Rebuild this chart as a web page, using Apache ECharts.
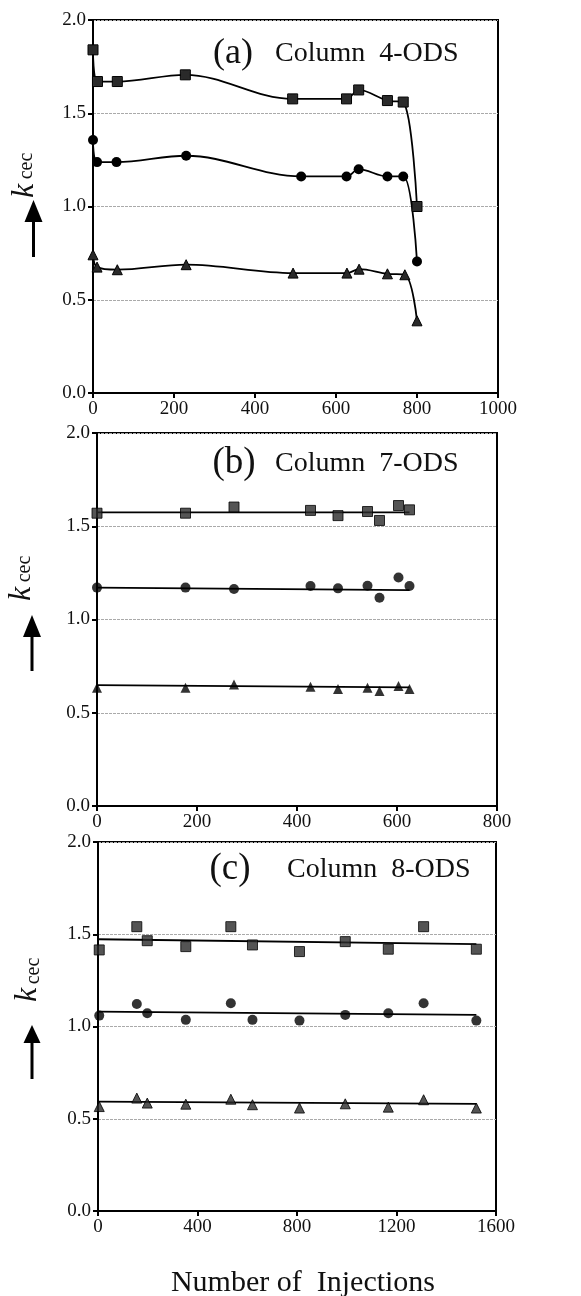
<!DOCTYPE html>
<html>
<head>
<meta charset="utf-8">
<script src="https://cdn.jsdelivr.net/npm/echarts@6/dist/echarts.min.js"></script>
<style>
html,body{margin:0;padding:0;background:#fff;}
#chart{width:581px;height:1296px;}
</style>
</head>
<body>
<div id="chart"></div>
<script>
// ---------- DATA ----------
// Panel (a) Column 4-ODS
const aSqX = [0, 11, 60, 228, 493, 626, 656, 727, 766, 800];
const aSq  = [1.84, 1.67, 1.67, 1.706, 1.577, 1.577, 1.625, 1.568, 1.56, 1.0];
const aCiX = [0, 10, 58, 230, 514, 626, 656, 727, 766, 800];
const aCi  = [1.357, 1.238, 1.238, 1.272, 1.161, 1.161, 1.20, 1.161, 1.161, 0.705];
const aTrX = [0, 10, 60, 230, 494, 627, 657, 727, 770, 800];
const aTr  = [0.741, 0.675, 0.661, 0.688, 0.643, 0.643, 0.664, 0.639, 0.634, 0.387];

// Panel (b) Column 7-ODS
const bX   = [0, 177, 274, 427, 482, 541, 565, 603, 625];
const bSq  = [1.570, 1.570, 1.603, 1.585, 1.557, 1.579, 1.531, 1.611, 1.588];
const bCi  = [1.171, 1.171, 1.164, 1.180, 1.167, 1.181, 1.117, 1.225, 1.180];
const bTr  = [0.634, 0.634, 0.652, 0.639, 0.627, 0.634, 0.616, 0.644, 0.627];
const bFitX  = [0, 625];
const bFitSq = [1.574, 1.574];
const bFitCi = [1.171, 1.158];
const bFitTr = [0.648, 0.636];

// Panel (c) Column 8-ODS
const cX   = [5, 156, 198, 353, 534, 621, 810, 994, 1167, 1309, 1521];
const cSq  = [1.415, 1.541, 1.465, 1.433, 1.541, 1.442, 1.406, 1.460, 1.419, 1.541, 1.419];
const cCi  = [1.059, 1.122, 1.072, 1.036, 1.126, 1.036, 1.032, 1.063, 1.072, 1.126, 1.032];
const cTr  = [0.566, 0.612, 0.585, 0.579, 0.606, 0.576, 0.558, 0.581, 0.563, 0.603, 0.558];
const cFitX  = [0, 1521];
const cFitSq = [1.473, 1.447];
const cFitCi = [1.081, 1.063];
const cFitTr = [0.593, 0.581];

const titles = ['(a)', '(b)', '(c)'];
const columnNames = ['Column  4-ODS', 'Column  7-ODS', 'Column  8-ODS'];
const xMax = [1000, 800, 1600];
const xStep = [200, 200, 400];
const yTicks = ['0.0', '0.5', '1.0', '1.5', '2.0'];
const xTitle = 'Number of  Injections';

// ---------- HELPERS ----------
const FONT = '"Liberation Serif", "Times New Roman", serif';
function pair(xs, ys) { return xs.map((x, i) => [x, ys[i]]); }

function makePattern() {
  const c = document.createElement('canvas');
  c.width = 3; c.height = 3;
  const g = c.getContext('2d');
  g.fillStyle = '#2a2a2a'; g.fillRect(0, 0, 3, 3);
  g.fillStyle = '#9a9a9a'; g.fillRect(1, 1, 1, 1);
  return { image: c, repeat: 'repeat' };
}
const pat = makePattern();

const grids = [
  { left: 93, top: 20, width: 405, height: 373 },
  { left: 97, top: 433, width: 400, height: 373 },
  { left: 98, top: 842, width: 398, height: 369 }
];

const option = {
  animation: false,
  backgroundColor: '#fff',
  grid: grids.map(g => Object.assign({ show: true, borderColor: '#000', borderWidth: 2, backgroundColor: 'transparent' }, g)),
  xAxis: grids.map((g, i) => ({
    type: 'value', gridIndex: i, min: 0, max: xMax[i], interval: xStep[i],
    axisLine: { show: true, lineStyle: { color: '#000', width: 2 } },
    axisTick: { show: true, inside: false, length: 5, lineStyle: { color: '#000', width: 2 } },
    axisLabel: { color: '#111', fontFamily: FONT, fontSize: 19, margin: 7, formatter: v => String(v) },
    splitLine: { show: false }
  })),
  yAxis: grids.map((g, i) => ({
    type: 'value', gridIndex: i, min: 0, max: 2, interval: 0.5,
    axisLine: { show: true, lineStyle: { color: '#000', width: 2 } },
    axisTick: { show: true, inside: false, length: 5, lineStyle: { color: '#000', width: 2 } },
    axisLabel: { color: '#111', fontFamily: FONT, fontSize: 19, margin: 7,
      formatter: v => yTicks[Math.round(v / 0.5)] },
    splitLine: { show: true, lineStyle: { color: '#aaaaaa', width: 1, type: [3, 1] } }
  })),
  series: [],
  graphic: []
};

const lineStyle = { color: '#000', width: 1.8 };
const sqStyleGray = { color: pat, borderColor: '#000', borderWidth: 1 };
const sqStyleDark = { color: '#2a2a2a', borderColor: '#000', borderWidth: 1 };
const triStyleGray = { color: pat, borderColor: '#000', borderWidth: 1 };
const blackStyle = { color: '#000' };

// Panel (a): smooth lines with markers
[[aSqX, aSq, 'rect', 10, sqStyleGray], [aCiX, aCi, 'circle', 10, blackStyle], [aTrX, aTr, 'triangle', 10, triStyleGray]]
.forEach(([xs, ys, sym, sz, st]) => {
  option.series.push({
    type: 'line', xAxisIndex: 0, yAxisIndex: 0, data: pair(xs, ys),
    smooth: 0.35, symbol: sym, symbolSize: sz, showAllSymbol: true,
    lineStyle: lineStyle, itemStyle: st, z: 3
  });
});

// Panels (b), (c): fit lines + scatter
function addPanel(idx, xs, sets, fitX) {
  sets.forEach(([ys, fit, sym, sz, st]) => {
    option.series.push({
      type: 'line', xAxisIndex: idx, yAxisIndex: idx, data: pair(fitX, fit),
      symbol: 'none', lineStyle: lineStyle, z: 2
    });
    option.series.push({
      type: 'scatter', xAxisIndex: idx, yAxisIndex: idx, data: pair(xs, ys),
      symbol: sym, symbolSize: sz, itemStyle: st, z: 3
    });
  });
}
addPanel(1, bX, [[bSq, bFitSq, 'rect', 10, sqStyleDark], [bCi, bFitCi, 'circle', 10, blackStyle], [bTr, bFitTr, 'triangle', 10, blackStyle]], bFitX);
addPanel(2, cX, [[cSq, cFitSq, 'rect', 10, sqStyleGray], [cCi, cFitCi, 'circle', 10, blackStyle], [cTr, cFitTr, 'triangle', 10, triStyleGray]], cFitX);

// Titles
const titlePos = [
  { px: 233, cx: 275, base: 62, fs: 36 },
  { px: 234, cx: 275, base: 472, fs: 37 },
  { px: 230, cx: 287, base: 878, fs: 37 }
];
titlePos.forEach((t, i) => {
  option.graphic.push({ type: 'text', x: t.px, y: t.base + 10, z: 10,
    style: { text: titles[i], font: t.fs + 'px ' + FONT, fill: '#111', align: 'center', verticalAlign: 'bottom' } });
  option.graphic.push({ type: 'text', x: t.cx, y: t.base + 6, z: 10,
    style: { text: columnNames[i], font: '28px ' + FONT, fill: '#111', align: 'left', verticalAlign: 'bottom' } });
});

// y-axis labels k_cec with arrows
const ylab = [
  { kx: 25, ky: 191, sx: 27, sy: 166, ax: 33.5, tip: 200, base: 222, end: 257, hw: 9 },
  { kx: 22, ky: 594, sx: 25, sy: 569, ax: 32, tip: 615, base: 637, end: 671, hw: 9 },
  { kx: 28, ky: 995, sx: 34, sy: 971, ax: 32, tip: 1025, base: 1043, end: 1079, hw: 8.5 }
];
ylab.forEach(l => {
  option.graphic.push({ type: 'text', x: l.kx, y: l.ky, rotation: Math.PI / 2, z: 10,
    style: { text: 'k', font: 'italic 32px ' + FONT, fill: '#111', align: 'center', verticalAlign: 'middle' } });
  option.graphic.push({ type: 'text', x: l.sx, y: l.sy, rotation: Math.PI / 2, z: 10,
    style: { text: 'cec', font: '20px ' + FONT, fill: '#111', align: 'center', verticalAlign: 'middle' } });
  option.graphic.push({ type: 'polygon', z: 10,
    shape: { points: [[l.ax, l.tip], [l.ax - l.hw, l.base], [l.ax + l.hw, l.base]] },
    style: { fill: '#000' } });
  option.graphic.push({ type: 'rect', z: 10,
    shape: { x: l.ax - 1.5, y: l.base - 1, width: 3, height: l.end - l.base + 1 },
    style: { fill: '#000' } });
});

// x-axis title
option.graphic.push({ type: 'text', x: 303, y: 1283, z: 10,
  style: { text: xTitle, font: '30px ' + FONT, fill: '#111', align: 'center', verticalAlign: 'middle' } });

const chart = echarts.init(document.getElementById('chart'), null, { renderer: 'canvas' });
chart.setOption(option);
</script>
</body>
</html>
